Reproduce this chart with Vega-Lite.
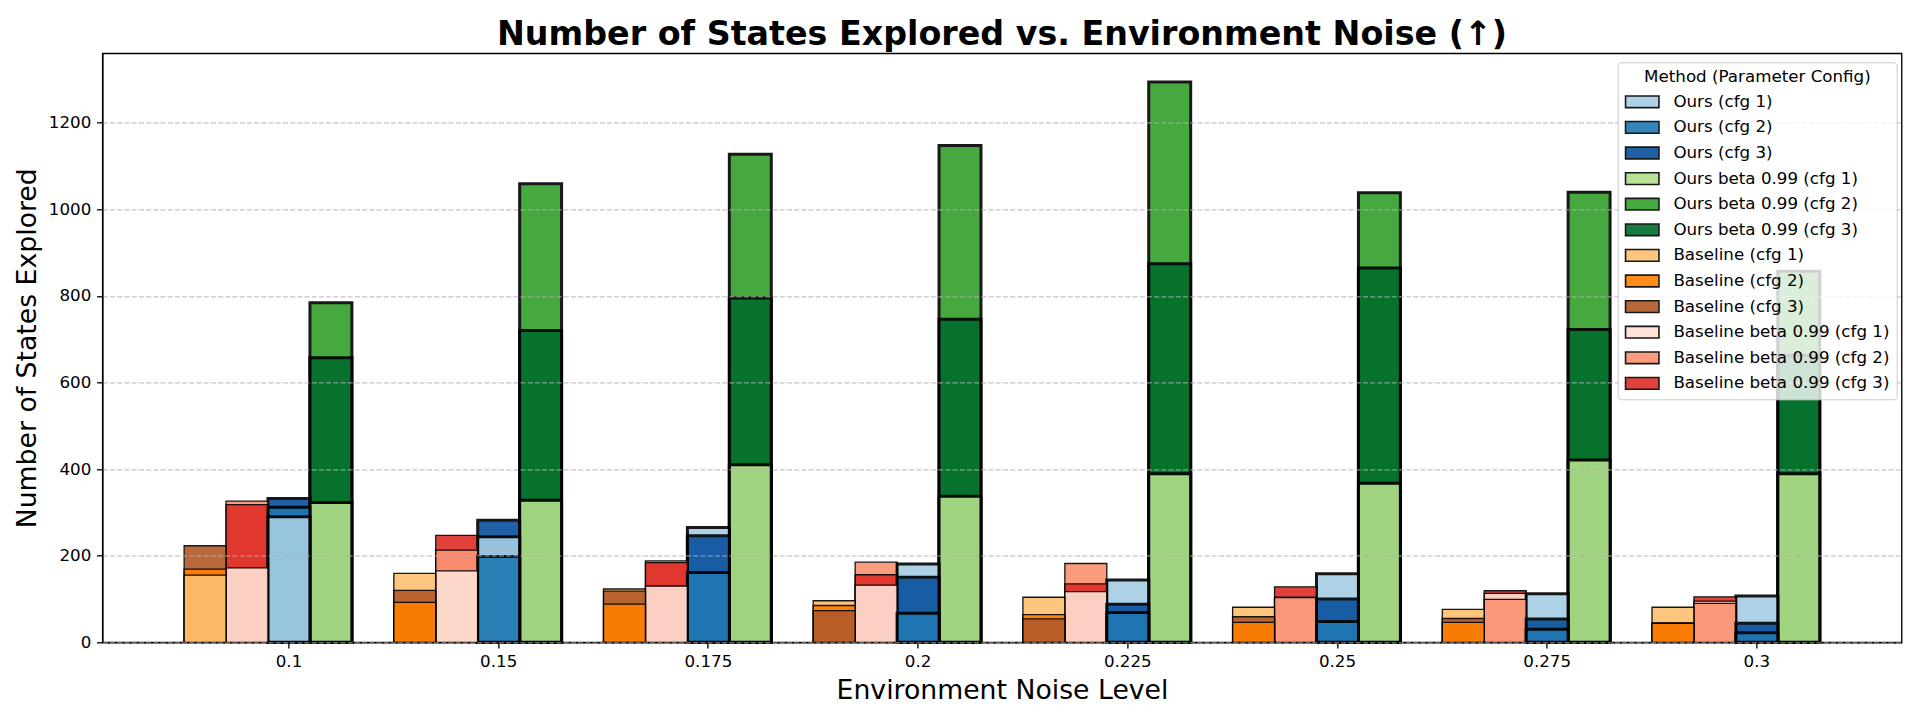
{
  "$schema": "https://vega.github.io/schema/vega-lite/v6.json",
  "width": 1799.2,
  "height": 589,
  "autosize": {"type": "none"},
  "padding": {"left": 102.4, "top": 53.3, "right": 18.4, "bottom": 77.7},
  "background": "white",
  "title": {"text": "Number of States Explored vs. Environment Noise (↑)", "fontSize": 33.3, "fontWeight": "bold", "font": "DejaVu Sans", "anchor": "middle", "frame": "group", "baseline": "alphabetic", "offset": -24.7, "color": "black"},
  "config": {
    "font": "DejaVu Sans",
    "view": {"stroke": "black", "strokeWidth": 1.33},
    "axis": {"labelFont": "DejaVu Sans", "titleFont": "DejaVu Sans", "labelFontSize": 16.7, "titleFontSize": 26.7, "titleFontWeight": "normal", "labelColor": "black", "titleColor": "black", "tickColor": "black", "tickWidth": 1.33, "tickSize": 5.8, "labelPadding": 5.8, "domainColor": "black", "domainWidth": 1.33, "titlePadding": 6.7},
    "legend": {"labelFont": "DejaVu Sans", "titleFont": "DejaVu Sans"}
  },
  "data": {"values": [
      {"noise": "0.1", "group": "Baseline", "series": "Baseline (cfg 1)", "value": 155},
      {"noise": "0.1", "group": "Baseline", "series": "Baseline (cfg 2)", "value": 169},
      {"noise": "0.1", "group": "Baseline", "series": "Baseline (cfg 3)", "value": 223},
      {"noise": "0.1", "group": "Baseline beta 0.99", "series": "Baseline beta 0.99 (cfg 1)", "value": 172},
      {"noise": "0.1", "group": "Baseline beta 0.99", "series": "Baseline beta 0.99 (cfg 2)", "value": 326},
      {"noise": "0.1", "group": "Baseline beta 0.99", "series": "Baseline beta 0.99 (cfg 3)", "value": 318},
      {"noise": "0.1", "group": "Ours", "series": "Ours (cfg 1)", "value": 290},
      {"noise": "0.1", "group": "Ours", "series": "Ours (cfg 2)", "value": 312},
      {"noise": "0.1", "group": "Ours", "series": "Ours (cfg 3)", "value": 332},
      {"noise": "0.1", "group": "Ours beta 0.99", "series": "Ours beta 0.99 (cfg 1)", "value": 323},
      {"noise": "0.1", "group": "Ours beta 0.99", "series": "Ours beta 0.99 (cfg 2)", "value": 784},
      {"noise": "0.1", "group": "Ours beta 0.99", "series": "Ours beta 0.99 (cfg 3)", "value": 657},
      {"noise": "0.15", "group": "Baseline", "series": "Baseline (cfg 1)", "value": 159},
      {"noise": "0.15", "group": "Baseline", "series": "Baseline (cfg 2)", "value": 92},
      {"noise": "0.15", "group": "Baseline", "series": "Baseline (cfg 3)", "value": 120},
      {"noise": "0.15", "group": "Baseline beta 0.99", "series": "Baseline beta 0.99 (cfg 1)", "value": 165},
      {"noise": "0.15", "group": "Baseline beta 0.99", "series": "Baseline beta 0.99 (cfg 2)", "value": 213},
      {"noise": "0.15", "group": "Baseline beta 0.99", "series": "Baseline beta 0.99 (cfg 3)", "value": 247},
      {"noise": "0.15", "group": "Ours", "series": "Ours (cfg 1)", "value": 244},
      {"noise": "0.15", "group": "Ours", "series": "Ours (cfg 2)", "value": 198},
      {"noise": "0.15", "group": "Ours", "series": "Ours (cfg 3)", "value": 282},
      {"noise": "0.15", "group": "Ours beta 0.99", "series": "Ours beta 0.99 (cfg 1)", "value": 328},
      {"noise": "0.15", "group": "Ours beta 0.99", "series": "Ours beta 0.99 (cfg 2)", "value": 1059},
      {"noise": "0.15", "group": "Ours beta 0.99", "series": "Ours beta 0.99 (cfg 3)", "value": 720},
      {"noise": "0.175", "group": "Baseline", "series": "Baseline (cfg 1)", "value": 123},
      {"noise": "0.175", "group": "Baseline", "series": "Baseline (cfg 2)", "value": 88},
      {"noise": "0.175", "group": "Baseline", "series": "Baseline (cfg 3)", "value": 118},
      {"noise": "0.175", "group": "Baseline beta 0.99", "series": "Baseline beta 0.99 (cfg 1)", "value": 130},
      {"noise": "0.175", "group": "Baseline beta 0.99", "series": "Baseline beta 0.99 (cfg 2)", "value": 188},
      {"noise": "0.175", "group": "Baseline beta 0.99", "series": "Baseline beta 0.99 (cfg 3)", "value": 184},
      {"noise": "0.175", "group": "Ours", "series": "Ours (cfg 1)", "value": 265},
      {"noise": "0.175", "group": "Ours", "series": "Ours (cfg 2)", "value": 161},
      {"noise": "0.175", "group": "Ours", "series": "Ours (cfg 3)", "value": 246},
      {"noise": "0.175", "group": "Ours beta 0.99", "series": "Ours beta 0.99 (cfg 1)", "value": 410},
      {"noise": "0.175", "group": "Ours beta 0.99", "series": "Ours beta 0.99 (cfg 2)", "value": 1127},
      {"noise": "0.175", "group": "Ours beta 0.99", "series": "Ours beta 0.99 (cfg 3)", "value": 795},
      {"noise": "0.2", "group": "Baseline", "series": "Baseline (cfg 1)", "value": 96},
      {"noise": "0.2", "group": "Baseline", "series": "Baseline (cfg 2)", "value": 85},
      {"noise": "0.2", "group": "Baseline", "series": "Baseline (cfg 3)", "value": 73},
      {"noise": "0.2", "group": "Baseline beta 0.99", "series": "Baseline beta 0.99 (cfg 1)", "value": 132},
      {"noise": "0.2", "group": "Baseline beta 0.99", "series": "Baseline beta 0.99 (cfg 2)", "value": 185},
      {"noise": "0.2", "group": "Baseline beta 0.99", "series": "Baseline beta 0.99 (cfg 3)", "value": 156},
      {"noise": "0.2", "group": "Ours", "series": "Ours (cfg 1)", "value": 181},
      {"noise": "0.2", "group": "Ours", "series": "Ours (cfg 2)", "value": 67},
      {"noise": "0.2", "group": "Ours", "series": "Ours (cfg 3)", "value": 150},
      {"noise": "0.2", "group": "Ours beta 0.99", "series": "Ours beta 0.99 (cfg 1)", "value": 337},
      {"noise": "0.2", "group": "Ours beta 0.99", "series": "Ours beta 0.99 (cfg 2)", "value": 1147},
      {"noise": "0.2", "group": "Ours beta 0.99", "series": "Ours beta 0.99 (cfg 3)", "value": 746},
      {"noise": "0.225", "group": "Baseline", "series": "Baseline (cfg 1)", "value": 104},
      {"noise": "0.225", "group": "Baseline", "series": "Baseline (cfg 2)", "value": 64},
      {"noise": "0.225", "group": "Baseline", "series": "Baseline (cfg 3)", "value": 54},
      {"noise": "0.225", "group": "Baseline beta 0.99", "series": "Baseline beta 0.99 (cfg 1)", "value": 117},
      {"noise": "0.225", "group": "Baseline beta 0.99", "series": "Baseline beta 0.99 (cfg 2)", "value": 182},
      {"noise": "0.225", "group": "Baseline beta 0.99", "series": "Baseline beta 0.99 (cfg 3)", "value": 135},
      {"noise": "0.225", "group": "Ours", "series": "Ours (cfg 1)", "value": 144},
      {"noise": "0.225", "group": "Ours", "series": "Ours (cfg 2)", "value": 69},
      {"noise": "0.225", "group": "Ours", "series": "Ours (cfg 3)", "value": 88},
      {"noise": "0.225", "group": "Ours beta 0.99", "series": "Ours beta 0.99 (cfg 1)", "value": 389},
      {"noise": "0.225", "group": "Ours beta 0.99", "series": "Ours beta 0.99 (cfg 2)", "value": 1294},
      {"noise": "0.225", "group": "Ours beta 0.99", "series": "Ours beta 0.99 (cfg 3)", "value": 874},
      {"noise": "0.25", "group": "Baseline", "series": "Baseline (cfg 1)", "value": 81},
      {"noise": "0.25", "group": "Baseline", "series": "Baseline (cfg 2)", "value": 46},
      {"noise": "0.25", "group": "Baseline", "series": "Baseline (cfg 3)", "value": 59},
      {"noise": "0.25", "group": "Baseline beta 0.99", "series": "Baseline beta 0.99 (cfg 1)", "value": 104},
      {"noise": "0.25", "group": "Baseline beta 0.99", "series": "Baseline beta 0.99 (cfg 2)", "value": 103},
      {"noise": "0.25", "group": "Baseline beta 0.99", "series": "Baseline beta 0.99 (cfg 3)", "value": 128},
      {"noise": "0.25", "group": "Ours", "series": "Ours (cfg 1)", "value": 158},
      {"noise": "0.25", "group": "Ours", "series": "Ours (cfg 2)", "value": 48},
      {"noise": "0.25", "group": "Ours", "series": "Ours (cfg 3)", "value": 100},
      {"noise": "0.25", "group": "Ours beta 0.99", "series": "Ours beta 0.99 (cfg 1)", "value": 367},
      {"noise": "0.25", "group": "Ours beta 0.99", "series": "Ours beta 0.99 (cfg 2)", "value": 1038},
      {"noise": "0.25", "group": "Ours beta 0.99", "series": "Ours beta 0.99 (cfg 3)", "value": 864},
      {"noise": "0.275", "group": "Baseline", "series": "Baseline (cfg 1)", "value": 76},
      {"noise": "0.275", "group": "Baseline", "series": "Baseline (cfg 2)", "value": 46},
      {"noise": "0.275", "group": "Baseline", "series": "Baseline (cfg 3)", "value": 55},
      {"noise": "0.275", "group": "Baseline beta 0.99", "series": "Baseline beta 0.99 (cfg 1)", "value": 113},
      {"noise": "0.275", "group": "Baseline beta 0.99", "series": "Baseline beta 0.99 (cfg 2)", "value": 99},
      {"noise": "0.275", "group": "Baseline beta 0.99", "series": "Baseline beta 0.99 (cfg 3)", "value": 119},
      {"noise": "0.275", "group": "Ours", "series": "Ours (cfg 1)", "value": 112},
      {"noise": "0.275", "group": "Ours", "series": "Ours (cfg 2)", "value": 30},
      {"noise": "0.275", "group": "Ours", "series": "Ours (cfg 3)", "value": 54},
      {"noise": "0.275", "group": "Ours beta 0.99", "series": "Ours beta 0.99 (cfg 1)", "value": 421},
      {"noise": "0.275", "group": "Ours beta 0.99", "series": "Ours beta 0.99 (cfg 2)", "value": 1039},
      {"noise": "0.275", "group": "Ours beta 0.99", "series": "Ours beta 0.99 (cfg 3)", "value": 722},
      {"noise": "0.3", "group": "Baseline", "series": "Baseline (cfg 1)", "value": 81},
      {"noise": "0.3", "group": "Baseline", "series": "Baseline (cfg 2)", "value": 44},
      {"noise": "0.3", "group": "Baseline", "series": "Baseline (cfg 3)", "value": 45},
      {"noise": "0.3", "group": "Baseline beta 0.99", "series": "Baseline beta 0.99 (cfg 1)", "value": 95},
      {"noise": "0.3", "group": "Baseline beta 0.99", "series": "Baseline beta 0.99 (cfg 2)", "value": 90},
      {"noise": "0.3", "group": "Baseline beta 0.99", "series": "Baseline beta 0.99 (cfg 3)", "value": 105},
      {"noise": "0.3", "group": "Ours", "series": "Ours (cfg 1)", "value": 107},
      {"noise": "0.3", "group": "Ours", "series": "Ours (cfg 2)", "value": 22},
      {"noise": "0.3", "group": "Ours", "series": "Ours (cfg 3)", "value": 44},
      {"noise": "0.3", "group": "Ours beta 0.99", "series": "Ours beta 0.99 (cfg 1)", "value": 389},
      {"noise": "0.3", "group": "Ours beta 0.99", "series": "Ours beta 0.99 (cfg 2)", "value": 857},
      {"noise": "0.3", "group": "Ours beta 0.99", "series": "Ours beta 0.99 (cfg 3)", "value": 663}
  ]},
  "mark": {"type": "bar", "opacity": 0.9, "stroke": "black"},
  "encoding": {
    "x": {
      "field": "noise", "type": "ordinal",
      "scale": {"domain": ["0.1", "0.15", "0.175", "0.2", "0.225", "0.25", "0.275", "0.3"], "paddingInner": 0, "paddingOuter": 0.29, "align": 0.672},
      "axis": {"title": "Environment Noise Level", "labelAngle": 0, "grid": false}
    },
    "xOffset": {
      "field": "group", "type": "nominal",
      "scale": {"domain": ["Baseline", "Baseline beta 0.99", "Ours", "Ours beta 0.99", "_"], "paddingInner": 0, "paddingOuter": 0}
    },
    "y": {
      "field": "value", "type": "quantitative", "stack": null,
      "scale": {"domain": [0, 1360], "nice": false, "zero": true},
      "axis": {"title": "Number of States Explored", "values": [0, 200, 400, 600, 800, 1000, 1200], "format": "d", "grid": true, "gridColor": "#b0b0b0", "gridOpacity": 0.75, "gridDash": [5, 2.2], "gridWidth": 1.33, "zindex": 1}
    },
    "color": {
      "field": "series", "type": "nominal",
      "scale": {
        "domain": ["Ours (cfg 1)", "Ours (cfg 2)", "Ours (cfg 3)", "Ours beta 0.99 (cfg 1)", "Ours beta 0.99 (cfg 2)", "Ours beta 0.99 (cfg 3)", "Baseline (cfg 1)", "Baseline (cfg 2)", "Baseline (cfg 3)", "Baseline beta 0.99 (cfg 1)", "Baseline beta 0.99 (cfg 2)", "Baseline beta 0.99 (cfg 3)"],
        "range": ["#a6cee3", "#1f78b4", "#08519c", "#b2df8a", "#33a02c", "#006d2c", "#fdbf6f", "#ff7f00", "#b15928", "#fee0d2", "#fc9272", "#de2d26"]
      },
      "legend": {
        "title": "Method (Parameter Config)",
        "orient": "none", "legendX": 1515.3, "legendY": 9,
        "titleFontSize": 16.7, "titleFontWeight": "normal", "titleColor": "black", "titleAnchor": "middle", "titlePadding": 6.6, "titleLimit": 600,
        "labelFontSize": 16.7, "labelColor": "black", "labelOffset": 30, "labelLimit": 600,
        "symbolType": "M-1,-0.7H3V0.7H-1Z", "symbolSize": 279, "symbolStrokeColor": "black", "symbolStrokeWidth": 1.6, "symbolOpacity": 0.9,
        "rowPadding": 6.6, "padding": 6.7,
        "fillColor": "rgba(255,255,255,0.8)", "strokeColor": "#cccccc", "cornerRadius": 3.3, "zindex": 2
      }
    },
    "strokeWidth": {"condition": {"test": "indexof(datum.group,'Ours')===0", "value": 3}, "value": 1.33},
    "order": {"field": "value", "type": "quantitative", "sort": "descending"}
  }
}
